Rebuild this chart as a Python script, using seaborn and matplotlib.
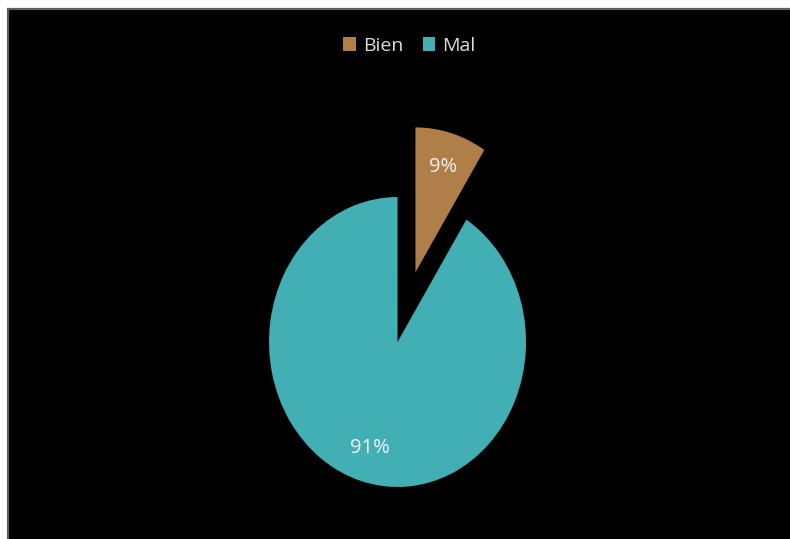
import matplotlib
matplotlib.use("Agg")
import matplotlib.pyplot as plt
from matplotlib.patches import Rectangle
import seaborn as sns

sns.set_theme(style="white")
plt.rcParams['font.family'] = ['Open Sans', 'DejaVu Sans']

# ============================================================
#  DATA
# ============================================================

categories = ["Bien", "Mal"]
shares     = [9, 91]
colors     = ["#B07E48", "#41AFB4"]
explode    = [0.5, 0.0]

# ============================================================
#  FIGURE
# ============================================================

fig = plt.figure(figsize=(7.9, 5.39), dpi=100, facecolor="white")

# black panel with thin grey frame (runs off the right and bottom edges)
fig.patches.append(Rectangle((8 / 790, -0.05), 1.05, (539 - 9) / 539 + 0.05,
                             transform=fig.transFigure, facecolor="black",
                             edgecolor="#606060", linewidth=1.6, zorder=-5))

ax = fig.add_axes([0.2592, 0.0158, 0.488, 0.807])
ax.set_facecolor("none")

wedges, texts, autotexts = ax.pie(
    shares, colors=colors, explode=explode, startangle=90, counterclock=False,
    autopct="%1.0f%%", pctdistance=0.76,
    textprops=dict(color="#F2F2F2", fontsize=14.5),
    wedgeprops=dict(linewidth=0),
)
ax.set_aspect("auto")
ax.set_xlim(-1.5, 1.5)
ax.set_ylim(-1.3, 1.7)
ax.axis("off")

leg = fig.legend(wedges, categories, loc="center", bbox_to_anchor=(0.518, 0.915),
                 ncol=2, frameon=False, handlelength=0.65, handleheight=0.7,
                 handletextpad=0.35, columnspacing=1.0, fontsize=14)
for t in leg.get_texts():
    t.set_color("#DDDDDD")

fig.savefig("out.png", dpi=100, facecolor=fig.get_facecolor())
